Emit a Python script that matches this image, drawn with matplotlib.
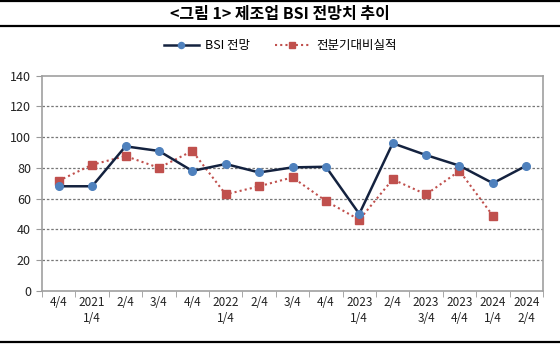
import matplotlib
matplotlib.use("Agg")
import matplotlib.pyplot as plt
from matplotlib.lines import Line2D
import numpy as np

plt.rcParams['font.family'] = ['Noto Sans CJK KR', 'DejaVu Sans']

# Quarterly manufacturing BSI
categories = ["4/4", "2021\n1/4", "2/4", "3/4", "4/4", "2022\n1/4", "2/4", "3/4",
              "4/4", "2023\n1/4", "2/4", "2023\n3/4", "2023\n4/4", "2024\n1/4", "2024\n2/4"]
bsi_outlook = [68, 68, 94, 91, 78, 82.5, 77, 80.3, 80.7, 50, 96, 88.3, 81.4, 70, 81.4]
vs_prev_actual = [71.6, 82, 87.7, 80, 91, 62.7, 68, 73.8, 58.4, 46.2, 72.5, 62.7, 78, 48.8, np.nan]
y_ticks = [0, 20, 40, 60, 80, 100, 120, 140]

title_text = "<그림 1> 제조업 BSI 전망치 추이"
label_outlook = "BSI 전망"
label_actual = "전분기대비실적"

W, H = 560, 344
fig = plt.figure(figsize=(W / 100, H / 100), dpi=100)

# header rules and title
for yy in (0.5, 26):
    fig.add_artist(Line2D([0, 1], [1 - yy / H, 1 - yy / H], color="black", lw=1.6))
fig.add_artist(Line2D([0, 1], [1 - 342 / H, 1 - 342 / H], color="black", lw=1.6))
fig.text(0.5, 1 - 14 / H, title_text, ha="center", va="center",
         fontsize=11.5, fontweight="bold", color="black")

left, right, top, bottom = 42, 543, 75.7, 290.7
ax = fig.add_axes([left / W, 1 - bottom / H, (right - left) / W, (bottom - top) / H])

x = np.arange(len(categories))
navy = "#14223F"
blue = "#4F81BD"
red = "#C0504D"

ax.plot(x, bsi_outlook, color=navy, lw=1.8, marker="o", ms=5.5,
        markerfacecolor=blue, markeredgecolor=blue, zorder=4, label=label_outlook)
ax.plot(x, vs_prev_actual, color=red, lw=1.5, ls=(0, (1, 1.5)), marker="s", ms=5.5,
        markerfacecolor=red, markeredgecolor=red, zorder=3, label=label_actual)

ax.set_xlim(-0.5, len(categories) - 0.5)
ax.set_ylim(0, 140)
ax.set_yticks(y_ticks)
ax.set_yticklabels([str(v) for v in y_ticks], fontsize=9, color="#222222")
ax.set_xticks(x)
ax.set_xticklabels(categories, fontsize=8.5, color="#222222", linespacing=1.25)
ax.set_xticks(np.arange(-0.5, len(categories)), minor=True)
ax.tick_params(axis="x", which="major", length=0, pad=4)
ax.tick_params(axis="x", which="minor", length=4, color="#999999", direction="out")
ax.tick_params(axis="y", length=4, color="#999999", direction="out", pad=4)

for yv in y_ticks[1:-1]:
    ax.axhline(yv, color="#777777", lw=0.9, ls=(0, (2, 1.5)), zorder=1)

for s in ax.spines.values():
    s.set_color("#A0A0A0")
    s.set_linewidth(1.2)

fig.legend(loc="center", bbox_to_anchor=(0.5, 1 - 46 / H), ncol=2, frameon=False,
           fontsize=9, handlelength=2.8, columnspacing=2.0, handletextpad=0.5,
           markerscale=0.8)

fig.savefig("out.png", dpi=100)
